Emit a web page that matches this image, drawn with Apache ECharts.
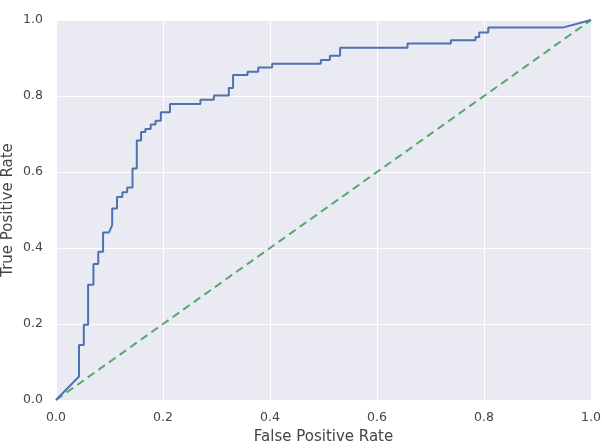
<!DOCTYPE html>
<html>
<head>
<meta charset="utf-8">
<script src="https://cdn.jsdelivr.net/npm/echarts@6/dist/echarts.min.js"></script>
<style>
  html, body { margin: 0; padding: 0; background: #fff; }
  #chart { width: 602px; height: 448px; }
</style>
</head>
<body>
<div id="chart"></div>
<script>
// ROC curve corner points
const fpr = [0, 0.043, 0.043, 0.052, 0.052, 0.060, 0.060, 0.070, 0.070, 0.079,
  0.079, 0.088, 0.088, 0.099, 0.105, 0.105, 0.114, 0.114, 0.124, 0.124,
  0.133, 0.133, 0.143, 0.143, 0.151, 0.151, 0.159, 0.159, 0.167, 0.167,
  0.177, 0.177, 0.186, 0.186, 0.196, 0.196, 0.213, 0.213, 0.270, 0.270,
  0.295, 0.295, 0.323, 0.323, 0.331, 0.331, 0.358, 0.358, 0.378, 0.378,
  0.404, 0.404, 0.495, 0.495, 0.512, 0.512, 0.531, 0.531, 0.657, 0.657,
  0.738, 0.738, 0.784, 0.784, 0.791, 0.791, 0.808, 0.808, 0.947, 1];
const tpr = [0, 0.062, 0.145, 0.145, 0.198, 0.198, 0.303, 0.303, 0.358, 0.358,
  0.390, 0.390, 0.441, 0.441, 0.460, 0.504, 0.504, 0.534, 0.534, 0.547,
  0.547, 0.559, 0.559, 0.609, 0.609, 0.683, 0.683, 0.705, 0.705, 0.713,
  0.713, 0.725, 0.725, 0.735, 0.735, 0.757, 0.757, 0.779, 0.779, 0.790,
  0.790, 0.801, 0.801, 0.821, 0.821, 0.855, 0.855, 0.864, 0.864, 0.875,
  0.875, 0.885, 0.885, 0.895, 0.895, 0.906, 0.906, 0.927, 0.927, 0.938,
  0.938, 0.947, 0.947, 0.955, 0.955, 0.967, 0.967, 0.980, 0.980, 1];

// chance line
const chanceX = [0, 1];
const chanceY = [0, 1];

const chart = echarts.init(document.getElementById("chart"));

const textColor = "#444";
const font = "DejaVu Sans";

const axisCommon = {
  type: "value",
  min: 0,
  max: 1,
  interval: 0.2,
  nameLocation: "middle",
  nameMoveOverlap: false,
  nameTextStyle: { color: textColor, fontFamily: font, fontSize: 15 },
  axisLine: { show: false },
  axisTick: { show: false },
  axisLabel: {
    color: textColor,
    fontFamily: font,
    fontSize: 12.5,
    formatter: (v) => v.toFixed(1),
  },
  splitLine: { show: true, lineStyle: { color: "#fff", width: 1 } },
};

chart.setOption({
  animation: false,
  grid: {
    left: 56,
    right: 11,
    top: 20,
    bottom: 48,
    outerBoundsMode: "none",
    containLabel: false,
    show: true,
    backgroundColor: "#EAEAF2",
    borderWidth: 0,
  },
  xAxis: {
    ...axisCommon,
    name: "False Positive Rate",
    nameGap: 30,
    axisLabel: { ...axisCommon.axisLabel, margin: 11 },
  },
  yAxis: {
    ...axisCommon,
    name: "True Positive Rate",
    nameGap: 40,
    axisLabel: { ...axisCommon.axisLabel, margin: 13 },
  },
  series: [
    {
      type: "line",
      data: fpr.map((x, i) => [x, tpr[i]]),
      symbol: "none",
      lineStyle: { color: "#4C72B0", width: 2 },
      z: 3,
    },
    {
      type: "line",
      data: chanceX.map((x, i) => [x, chanceY[i]]),
      symbol: "none",
      lineStyle: { color: "#55A868", width: 2, type: [8, 5] },
      z: 2,
    },
  ],
});
</script>
</body>
</html>
